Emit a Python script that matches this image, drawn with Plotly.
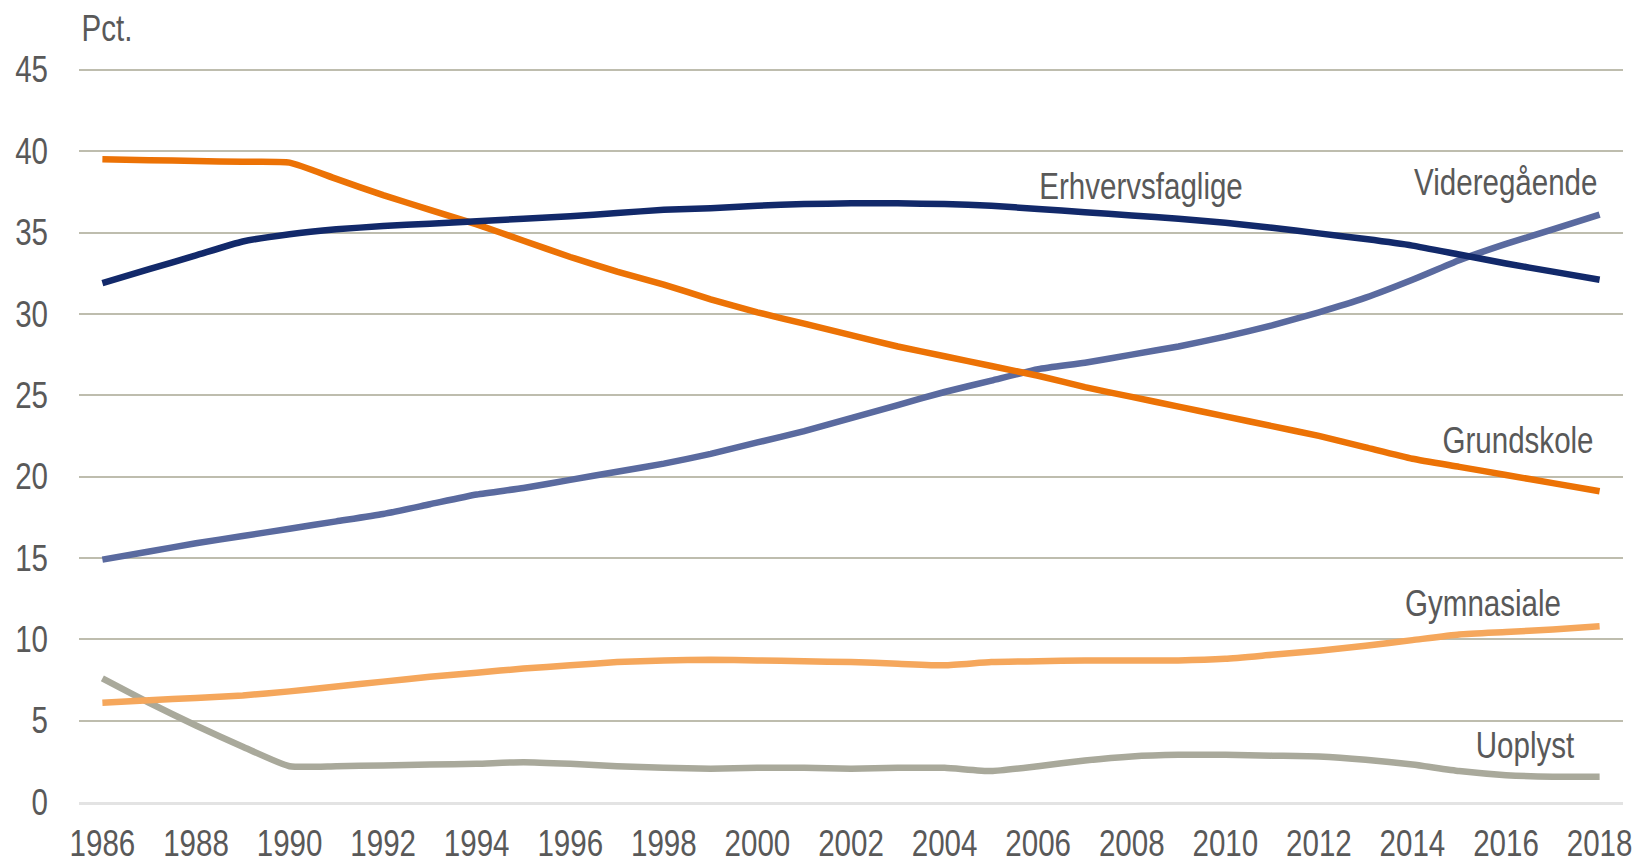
import plotly.graph_objects as go

years = list(range(1986, 2019))

grundskole = [39.5, 39.45, 39.4, 39.35, 39.3, 38.3, 37.3, 36.4, 35.5, 34.5, 33.5, 32.6, 31.8, 30.9,
              30.1, 29.4, 28.7, 28.0, 27.4, 26.8, 26.2, 25.5, 24.9, 24.3, 23.7, 23.1, 22.5, 21.8,
              21.1, 20.6, 20.1, 19.6, 19.1]
erhvervsfaglige = [31.9, 32.75, 33.6, 34.45, 34.9, 35.2, 35.4, 35.55, 35.7, 35.85, 36.0, 36.2, 36.4,
                   36.5, 36.65, 36.75, 36.8, 36.8, 36.75, 36.65, 36.45, 36.25, 36.05, 35.85, 35.6,
                   35.3, 34.95, 34.6, 34.2, 33.65, 33.1, 32.6, 32.1]
videregaaende = [14.9, 15.4, 15.9, 16.35, 16.8, 17.25, 17.7, 18.3, 18.9, 19.3, 19.8, 20.3, 20.8,
                 21.4, 22.1, 22.8, 23.6, 24.4, 25.2, 25.9, 26.6, 27.0, 27.5, 28.0, 28.6, 29.3,
                 30.1, 31.0, 32.1, 33.3, 34.3, 35.2, 36.1]
gymnasiale = [6.1, 6.25, 6.4, 6.55, 6.8, 7.1, 7.4, 7.7, 7.95, 8.2, 8.4, 8.6, 8.7, 8.75, 8.7, 8.65,
              8.6, 8.5, 8.4, 8.6, 8.65, 8.7, 8.7, 8.7, 8.8, 9.05, 9.3, 9.6, 9.95, 10.3, 10.45,
              10.6, 10.8]
uoplyst = [7.6, 6.1, 4.7, 3.4, 2.2, 2.2, 2.25, 2.3, 2.35, 2.45, 2.35, 2.2, 2.1, 2.05, 2.1, 2.1,
           2.05, 2.1, 2.1, 1.9, 2.2, 2.55, 2.8, 2.9, 2.9, 2.85, 2.8, 2.6, 2.3, 1.9, 1.65, 1.55, 1.55]

tick_years = list(range(1986, 2019, 2))
y_ticks = [0, 5, 10, 15, 20, 25, 30, 35, 40, 45]

FONT = "Liberation Sans, Arial, sans-serif"
TXT = "#595959"

series = [
    ("Uoplyst", uoplyst, "#A9A99B"),
    ("Gymnasiale", gymnasiale, "#F5A75C"),
    ("Videregående", videregaaende, "#5A6A9F"),
    ("Grundskole", grundskole, "#EC7205"),
    ("Erhvervsfaglige", erhvervsfaglige, "#12296A"),
]

fig = go.Figure()
for name, vals, col in series:
    fig.add_trace(go.Scatter(x=years, y=vals, mode="lines", name=name,
                             line=dict(color=col, width=6.5, shape="spline", smoothing=0.5),
                             showlegend=False))

labels = [
    ("Erhvervsfaglige", 2008.2, 37.86),
    ("Videregående", 2016.0, 38.1),
    ("Grundskole", 2016.25, 22.2),
    ("Gymnasiale", 2015.5, 12.2),
    ("Uoplyst", 2016.4, 3.5),
]
for text, x, y in labels:
    fig.add_annotation(x=x, y=y, text=text, showarrow=False, xanchor="center", yanchor="middle",
                       font=dict(family=FONT, size=36, color=TXT))

fig.add_annotation(xref="paper", yref="paper", x=0.0181, y=1.05, text="Pct.", showarrow=False,
                   xanchor="center", yanchor="middle",
                   font=dict(family=FONT, size=36, color=TXT))

fig.update_layout(
    width=1640, height=865,
    margin=dict(l=79, r=17, t=65, b=63, autoexpand=False),
    paper_bgcolor="white", plot_bgcolor="white",
    font=dict(family=FONT, size=36, color=TXT),
    xaxis=dict(range=[1985.5, 2018.5], tickvals=tick_years, ticktext=[str(t) for t in tick_years],
               showgrid=False, zeroline=False, showline=True, linecolor="#E3E3E3", linewidth=3,
               ticks="", ticklabelstandoff=8, automargin=False,
               tickfont=dict(family=FONT, size=36, color=TXT)),
    yaxis=dict(range=[0, 45.3], tickvals=y_ticks, showgrid=True, gridcolor="#BEBDAE", gridwidth=2,
               zeroline=False, showline=False, ticks="", ticklabelstandoff=30, automargin=False,
               tickfont=dict(family=FONT, size=36, color=TXT)),
)

# Remove default page margin and narrow the text (the original uses a condensed typeface)
post = """
document.body.style.margin = '0';
var gd = document.getElementById('{plot_id}');
gd.querySelectorAll('text').forEach(function(t){
  var len = t.getComputedTextLength();
  if (len > 0) {
    t.setAttribute('textLength', (len * 0.82).toFixed(2));
    t.setAttribute('lengthAdjust', 'spacingAndGlyphs');
  }
});
"""

fig.write_html("out.html", post_script=post, config={"displayModeBar": False})
